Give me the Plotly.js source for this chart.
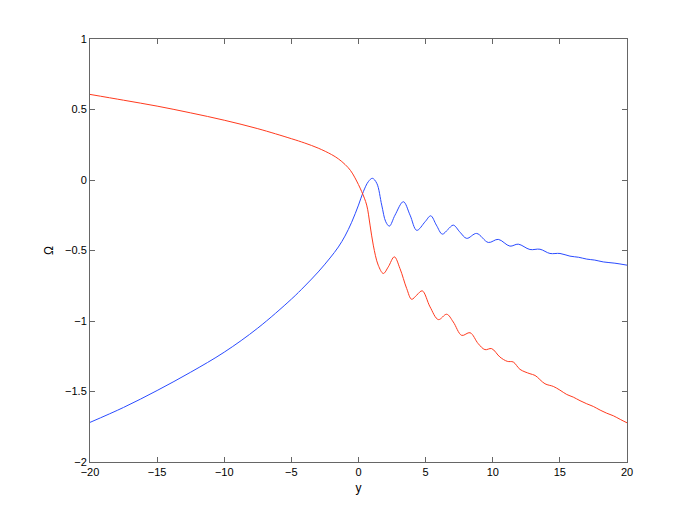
<!DOCTYPE html>
<html>
<head>
<meta charset="utf-8">
<script src="https://cdn.plot.ly/plotly-3.0.1.min.js"></script>
<style>
  body { margin: 0; background: #fff; }
  #plot { width: 692px; height: 520px; }
</style>
</head>
<body>
<div id="plot"></div>
<script>
// values
var xRed = [-20, -17.5, -15, -12.5, -10, -7.5, -5, -4, -3, -2, -1.5, -1.0, -0.6, -0.26, 0.24, 0.61, 0.86, 1.10, 1.47, 1.85, 2.22, 2.67, 3.09, 3.59, 3.96, 4.35, 4.75, 5.33, 5.95, 6.57, 7.06, 7.69, 8.31, 8.92, 9.42, 9.92, 10.54, 11.08, 11.53, 12.03, 12.77, 13.15, 13.89, 14.51, 15.0, 15.51, 16.0, 16.5, 17.0, 17.49, 18.0, 18.49, 18.98, 19.5, 20];
var yRed = [0.607, 0.566, 0.524, 0.476, 0.424, 0.364, 0.293, 0.262, 0.226, 0.180, 0.150, 0.110, 0.068, 0.015, -0.083, -0.178, -0.320, -0.462, -0.604, -0.663, -0.616, -0.545, -0.628, -0.770, -0.846, -0.815, -0.786, -0.900, -0.990, -0.952, -1.007, -1.102, -1.083, -1.161, -1.203, -1.196, -1.256, -1.286, -1.291, -1.343, -1.374, -1.386, -1.445, -1.464, -1.490, -1.521, -1.540, -1.565, -1.587, -1.606, -1.632, -1.654, -1.672, -1.698, -1.722];

var xBlue = [-20, -17.5, -15, -12.5, -10, -7.5, -5, -4, -3, -2.12, -1.5, -1.01, -0.51, 0, 0.36, 0.73, 1.03, 1.36, 1.73, 2.03, 2.30, 2.72, 3.34, 3.84, 4.34, 4.96, 5.38, 5.8, 6.24, 6.65, 7.06, 7.56, 8.06, 8.80, 9.67, 10.41, 11.28, 11.90, 12.77, 13.52, 14.26, 15.01, 15.75, 16.4, 17.0, 17.6, 18.23, 19.1, 20];
var yBlue = [-1.719, -1.613, -1.493, -1.363, -1.221, -1.050, -0.845, -0.752, -0.652, -0.553, -0.475, -0.398, -0.300, -0.178, -0.083, -0.012, 0.012, -0.023, -0.178, -0.296, -0.327, -0.249, -0.154, -0.249, -0.357, -0.296, -0.254, -0.320, -0.384, -0.352, -0.320, -0.370, -0.414, -0.379, -0.443, -0.421, -0.469, -0.455, -0.493, -0.491, -0.521, -0.521, -0.540, -0.548, -0.561, -0.568, -0.581, -0.590, -0.604];

var xTicks = [-20, -15, -10, -5, 0, 5, 10, 15, 20];
var yTicks = [-2, -1.5, -1, -0.5, 0, 0.5, 1];

var traceBlue = {
  x: xBlue, y: yBlue, type: "scatter", mode: "lines",
  line: {color: "#2a4bff", width: 1, shape: "spline", smoothing: 1},
  hoverinfo: "none"
};
var traceRed = {
  x: xRed, y: yRed, type: "scatter", mode: "lines",
  line: {color: "#ff3a1e", width: 1, shape: "spline", smoothing: 1},
  hoverinfo: "none"
};

var axisStyle = {
  showgrid: false, zeroline: false,
  showline: true, linecolor: "#666", linewidth: 1,
  mirror: "ticks", ticks: "inside", ticklen: 5, tickcolor: "#666",
  tickfont: {family: "Liberation Sans, Arial, sans-serif", size: 11, color: "#000"}
};

var layout = {
  width: 692, height: 520, autosize: false,
  margin: {l: 90, r: 65, t: 39, b: 58, pad: 0},
  paper_bgcolor: "#fff", plot_bgcolor: "#fff",
  showlegend: false,
  font: {family: "Liberation Sans, Arial, sans-serif", size: 11, color: "#000"},
  xaxis: Object.assign({}, axisStyle, {
    range: [-20, 20], tickvals: xTicks,
    title: {text: "y", standoff: 6, font: {size: 12}}
  }),
  yaxis: Object.assign({}, axisStyle, {
    range: [-2, 1], tickvals: yTicks,
    title: {text: "Ω", standoff: 8, font: {size: 12}}
  })
};

Plotly.newPlot("plot", [traceBlue, traceRed], layout, {displayModeBar: false, staticPlot: true});
</script>
</body>
</html>
